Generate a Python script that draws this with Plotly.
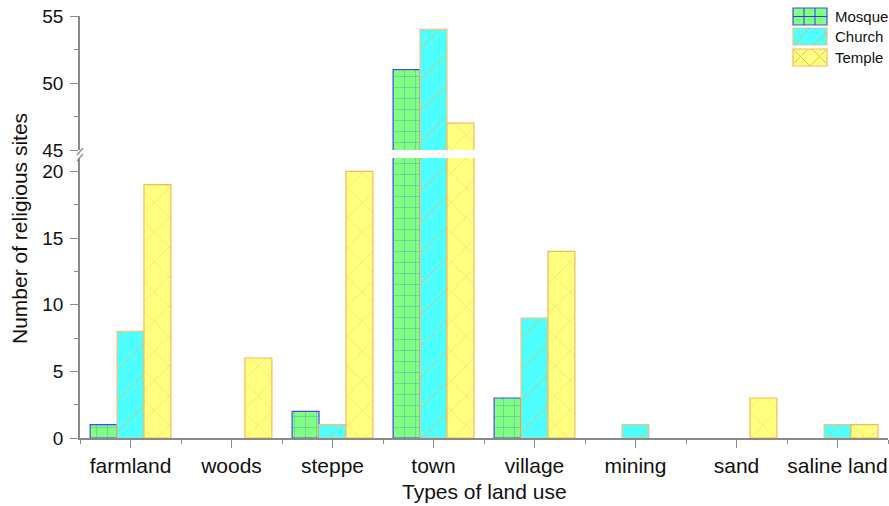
import plotly.graph_objects as go

# Land-use categories and counts of religious sites per type
categories = ["farmland", "woods", "steppe", "town", "village", "mining", "sand", "saline land"]
mosque = [1, 0, 2, 51, 3, 0, 0, 0]
church = [8, 0, 1, 54, 9, 1, 0, 1]
temple = [19, 6, 20, 47, 14, 0, 3, 1]

lower_ticks = [0, 5, 10, 15, 20]
upper_ticks = [45, 50, 55]

FONT = "Liberation Sans, Arial, sans-serif"
AXIS = "#8a8a8a"
W, H = 889, 506
ML, MR, MT, MB = 80, 1, 16, 68
PW, PH = W - ML - MR, H - MT - MB


def px(xp):
    return (xp - ML) / PW


def py(yp):
    return (H - MB - yp) / PH


styles = {
    "Mosque": dict(fill="#80FF80", line="#4848F0", shape="+", fg="#3838E8", size=11, sol=0.08),
    "Church": dict(fill="#4DFFFF", line="#F5C27A", shape="/", fg="#E0B868", size=22, sol=0.06),
    "Temple": dict(fill="#FFFF80", line="#F5B860", shape="x", fg="#F0B858", size=21, sol=0.06),
}
series = {"Mosque": mosque, "Church": church, "Temple": temple}

xs = list(range(len(categories)))
fig = go.Figure()
for name, vals in series.items():
    s = styles[name]
    # no outline for empty bars
    widths = [1.2 if v else 0 for v in vals]
    for yax in ("y", "y2"):
        fig.add_trace(go.Bar(
            x=xs, y=vals, name=name, yaxis=yax, showlegend=False,
            marker=dict(
                color=s["fill"],
                line=dict(color=s["line"], width=widths),
                pattern=dict(shape=s["shape"], fgcolor=s["fg"], bgcolor=s["fill"],
                             size=s["size"], solidity=s["sol"], fillmode="overlay"),
            ),
            hoverinfo="x+y+name",
        ))

lower_top = 280 / PH
upper_bot = 288 / PH

yaxis_common = dict(
    showline=True, linecolor=AXIS, linewidth=1.5, showgrid=False, zeroline=False,
    ticks="outside", ticklen=8, tickwidth=1.2, tickcolor=AXIS,
    tickfont=dict(family=FONT, size=19, color="#111"),
    minor=dict(dtick=2.5, ticks="outside", ticklen=4, tickcolor=AXIS, tickwidth=1.2),
    ticklabelstandoff=3,
)

# Hand-drawn legend: swatch boxes with their hatch lines, plus labels
shapes = []
annotations = []
x0, x1 = 793, 827
rows = [("Mosque", 8, 25), ("Church", 28, 45), ("Temple", 49, 66)]
for name, top, bot in rows:
    s = styles[name]
    shapes.append(dict(type="rect", xref="paper", yref="paper",
                       x0=px(x0), x1=px(x1), y0=py(bot), y1=py(top),
                       fillcolor=s["fill"], line=dict(color=s["line"], width=1.2)))
    mid = (top + bot) / 2
    if name == "Mosque":
        segs = [(804, top, 804, bot), (815, top, 815, bot), (x0, mid, x1, mid)]
    elif name == "Church":
        segs = [(x0 + 2, bot, x0 + 16, top), (x0 + 20, bot, x1, top + 4)]
    else:
        segs = [(x0, top, x0 + 17, bot), (x0 + 17, bot, x1, top),
                (x0, bot - 2, x0 + 15, top), (x0 + 19, top, x1, bot - 2)]
    for a, b, c, d in segs:
        shapes.append(dict(type="line", xref="paper", yref="paper",
                           x0=px(a), y0=py(b), x1=px(c), y1=py(d),
                           line=dict(color=s["fg"], width=1)))
    annotations.append(dict(text=name, xref="paper", yref="paper",
                            x=px(833), y=py(mid), xanchor="left", yanchor="middle",
                            showarrow=False, font=dict(family=FONT, size=15, color="#111")))

# axis-break marks on the y axis
shapes += [
    dict(type="line", xref="paper", yref="paper",
         x0=px(77), x1=px(83), y0=py(155), y1=py(148), line=dict(color=AXIS, width=1.2)),
    dict(type="line", xref="paper", yref="paper",
         x0=px(77), x1=px(83), y0=py(161), y1=py(154), line=dict(color=AXIS, width=1.2)),
]

annotations += [
    dict(text="Number of religious sites", xref="paper", yref="paper",
         x=px(20), y=py(229), textangle=-90, showarrow=False,
         font=dict(family=FONT, size=21, color="#111"), xanchor="center", yanchor="middle"),
    dict(text="Types of land use", xref="paper", yref="paper",
         x=px(484), y=py(492), showarrow=False,
         font=dict(family=FONT, size=21, color="#111"), xanchor="center", yanchor="middle"),
]

fig.update_layout(
    width=W, height=H,
    margin=dict(l=ML, r=MR, t=MT, b=MB),
    paper_bgcolor="white", plot_bgcolor="white",
    barmode="group", bargap=0.2, bargroupgap=0,
    font=dict(family=FONT, color="#111"),
    showlegend=False,
    xaxis=dict(
        range=[-0.5, 7.5], tickmode="array", tickvals=xs, ticktext=categories,
        showline=True, linecolor=AXIS, linewidth=1.5, showgrid=False, zeroline=False,
        ticks="outside", ticklen=8, tickwidth=1.2, tickcolor=AXIS,
        tickfont=dict(family=FONT, size=21, color="#111"),
        minor=dict(tickmode="array", tickvals=[i + 0.5 for i in range(-1, 8)],
                   ticks="outside", ticklen=4, tickcolor=AXIS, tickwidth=1.2),
        anchor="y",
    ),
    yaxis=dict(domain=[0, lower_top], range=[0, 21], tickvals=lower_ticks, anchor="x", **yaxis_common),
    yaxis2=dict(domain=[upper_bot, 1], range=[45, 55], tickvals=upper_ticks, anchor="x", **yaxis_common),
    annotations=annotations,
    shapes=shapes,
)

fig.write_html("out.html")
